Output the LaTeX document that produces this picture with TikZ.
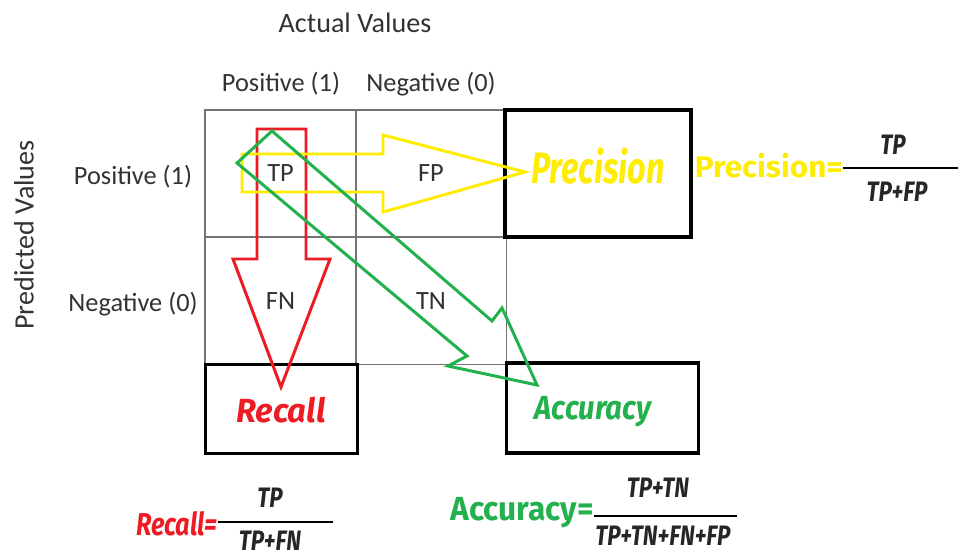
\documentclass[tikz,border=0pt]{standalone}
\usepackage{fontspec}
\setmainfont{Carlito}
\newfontfamily\fancyfont{Fira Sans}
\newcommand{\fancy}[2]{\fancyfont\bfseries\itshape\fontsize{#1}{#1}\selectfont\addfontfeature{FakeStretch=#2}}
\newcommand{\fancyup}[2]{\fancyfont\bfseries\fontsize{#1}{#1}\selectfont\addfontfeature{FakeStretch=#2}}
\definecolor{precyellow}{RGB}{255,236,0}
\definecolor{recred}{RGB}{237,28,36}
\definecolor{accgreen}{RGB}{34,177,76}
\definecolor{labelgray}{RGB}{50,50,50}
\tikzset{
    head/.style={text=labelgray, font=\fontsize{16}{19}\selectfont},
    classlabel/.style={text=labelgray, font=\fontsize{15}{18}\selectfont},
    cell/.style={draw=black!55, line width=0.6pt, minimum width=3.02cm, minimum height=2.54cm,
                 inner sep=0pt, text=labelgray, font=\fontsize{15}{18}\selectfont},
    metricbox/.style={draw=black, line width=1.8pt, inner sep=0pt},
    blockarrow/.style={line width=1.7pt, line join=miter},
    fracpart/.style={text=black!85, font=\fancy{16}{0.8}, inner sep=0pt},
    fracbar/.style={line width=1.5pt, black}
}

\begin{document}
\begin{tikzpicture}[x=0.02cm, y=-0.02cm]
    \useasboundingbox (0,0) rectangle (958,558);
    % axis titles
    \node[head] (actual) at (355,23) {Actual Values};
    \node[head, rotate=90] (predicted) at (24,235) {Predicted Values};
    \node[classlabel] (colpos) at (281,84) {Positive (1)};
    \node[classlabel] (colneg) at (431,84) {Negative (0)};
    \node[classlabel] (rowpos) at (133,177) {Positive (1)};
    \node[classlabel] (rowneg) at (133,304) {Negative (0)};

    % confusion matrix
    \node[cell] (tp) at (280.5,173.5) {TP};
    \node[cell] (fp) at (431,173.5) {FP};
    \node[cell] (fn) at (280.5,301) {FN};
    \node[cell] (tn) at (431,301) {TN};

    % metric boxes
    \node[metricbox, minimum width=3.72cm, minimum height=2.54cm] (precbox) at (598,173.5) {};
    \node[metricbox, minimum width=3.04cm, minimum height=1.78cm] (recbox) at (281.5,409) {};
    \node[metricbox, minimum width=3.84cm, minimum height=1.80cm] (accbox) at (602.5,408) {};
    \node[text=precyellow, font=\fancy{25}{0.74}] (prectext) at (598,166) {Precision};
    \node[text=recred, font=\fancy{19}{0.98}] (rectext) at (281,410) {Recall};
    \node[text=accgreen, font=\fancy{19}{0.88}] (acctext) at (593,412) {Accuracy};

    % block arrows
    \draw[blockarrow, recred] (257,129) -- (306,129) -- (306,259) -- (330,259) -- (281,387)
        -- (233,259) -- (257,259) -- cycle;
    \draw[blockarrow, precyellow] (242,154) -- (383,154) -- (383,135) -- (525,172) -- (383,212)
        -- (383,192) -- (242,192) -- cycle;
    \draw[blockarrow, accgreen] (272,131) -- (492,321) -- (502,308) -- (537,385) -- (448,366)
        -- (467,356) -- (237,163) -- cycle;

    % formulas
    \node[text=precyellow, font=\fancyup{17}{1.05}, anchor=east, inner sep=0pt] (preceq) at (843,166) {Precision=};
    \coordinate (precend) at (958,168);
    \draw[fracbar] (preceq.east |- precend) -- (precend);
    \node[fracpart] (precnum) at (893,145) {TP};
    \node[fracpart] (precden) at (897,192) {TP+FP};

    \node[text=recred, font=\fancy{18}{0.8}, anchor=east, inner sep=0pt] (receq) at (218,524) {Recall=};
    \coordinate (recend) at (333,522);
    \draw[fracbar] (receq.east |- recend) -- (recend);
    \node[fracpart] (recnum) at (270,498) {TP};
    \node[fracpart] (recden) at (270,541) {TP+FN};

    \node[text=accgreen, font=\fancyup{19}{0.95}, anchor=east, inner sep=0pt] (acceq) at (594,513) {Accuracy=};
    \coordinate (accend) at (737,516);
    \draw[fracbar] (acceq.east |- accend) -- (accend);
    \node[fracpart] (accnum) at (658,488) {TP+TN};
    \node[fracpart] (accden) at (663,536) {TP+TN+FN+FP};
\end{tikzpicture}
\end{document}
